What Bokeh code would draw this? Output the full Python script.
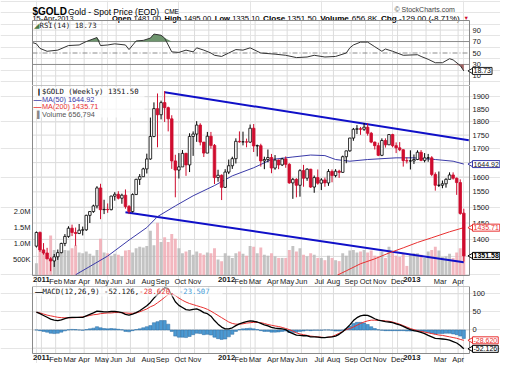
import math
import numpy as np
from bokeh.plotting import figure
from bokeh.layouts import column
from bokeh.models import Range1d, Label, LinearScale
from bokeh.core.properties import value
from bokeh.embed import file_html
from bokeh.resources import INLINE

# ---------------- data (weekly, index 0 = week ending 31-Dec-2010) ----------------
opens = [1380, 1421, 1369, 1360, 1343, 1337, 1349, 1361, 1388, 1409,
         1434, 1421, 1418, 1428, 1429, 1474, 1486, 1504, 1563, 1492,
         1493, 1492, 1536, 1542, 1529, 1539, 1502, 1486, 1541, 1592,
         1601, 1628, 1663, 1745, 1852, 1828, 1876, 1856, 1812, 1656,
         1624, 1635, 1683, 1642, 1745, 1754, 1788, 1724, 1684, 1746,
         1712, 1598, 1606, 1565, 1617, 1639, 1664, 1727, 1725, 1725,
         1724, 1776, 1710, 1711, 1656, 1661, 1668, 1631, 1659, 1642,
         1663, 1644, 1580, 1592, 1572, 1622, 1596, 1627, 1566, 1598,
         1579, 1590, 1580, 1619, 1605, 1620, 1616, 1671, 1692, 1739,
         1772, 1774, 1772, 1780, 1757, 1724, 1711, 1676, 1730, 1714,
         1752, 1711, 1703, 1696, 1657, 1656, 1656, 1661, 1687, 1658,
         1667, 1667, 1609, 1572, 1572, 1577, 1592, 1607, 1596, 1581,
         1481]
highs = [1424, 1424, 1389, 1375, 1348, 1357, 1370, 1390, 1416, 1440,
         1445, 1436, 1447, 1439, 1476, 1487, 1508, 1569, 1577, 1524,
         1512, 1537, 1549, 1552, 1544, 1558, 1507, 1545, 1594, 1610,
         1632, 1682, 1817, 1877, 1913, 1884, 1923, 1860, 1826, 1678,
         1684, 1695, 1685, 1757, 1764, 1803, 1795, 1724, 1762, 1762,
         1717, 1625, 1609, 1627, 1661, 1671, 1738, 1764, 1763, 1737,
         1790, 1792, 1715, 1718, 1671, 1697, 1681, 1677, 1661, 1667,
         1672, 1648, 1597, 1596, 1627, 1642, 1630, 1628, 1605, 1626,
         1596, 1598, 1627, 1626, 1627, 1625, 1675, 1693, 1740, 1777,
         1788, 1781, 1796, 1795, 1762, 1726, 1722, 1738, 1738, 1754,
         1755, 1723, 1724, 1698, 1669, 1694, 1679, 1694, 1695, 1684,
         1681, 1673, 1616, 1619, 1588, 1596, 1616, 1616, 1598, 1592,
         1495]
lows = [1376, 1363, 1355, 1342, 1308, 1320, 1340, 1359, 1380, 1405,
        1410, 1381, 1416, 1412, 1426, 1450, 1482, 1496, 1462, 1478,
        1482, 1490, 1521, 1525, 1511, 1495, 1478, 1483, 1540, 1573,
        1600, 1612, 1660, 1742, 1705, 1810, 1800, 1764, 1628, 1532,
        1595, 1635, 1604, 1617, 1674, 1725, 1712, 1670, 1684, 1700,
        1576, 1584, 1523, 1563, 1610, 1628, 1647, 1722, 1712, 1705,
        1722, 1688, 1672, 1636, 1627, 1651, 1613, 1625, 1627, 1638,
        1632, 1577, 1527, 1532, 1534, 1567, 1587, 1563, 1547, 1574,
        1556, 1567, 1570, 1582, 1599, 1597, 1615, 1648, 1689, 1729,
        1754, 1751, 1766, 1748, 1720, 1697, 1673, 1673, 1704, 1714,
        1705, 1684, 1691, 1636, 1647, 1626, 1645, 1659, 1655, 1651,
        1653, 1603, 1554, 1566, 1562, 1564, 1592, 1591, 1540, 1476,
        1335.1]
closes = [1421, 1369, 1360, 1343, 1337, 1349, 1361, 1388, 1409, 1434,
          1421, 1418, 1428, 1429, 1474, 1486, 1504, 1563, 1492, 1493,
          1492, 1536, 1542, 1529, 1539, 1502, 1486, 1541, 1592, 1601,
          1628, 1663, 1745, 1852, 1828, 1876, 1856, 1812, 1656, 1624,
          1635, 1683, 1642, 1745, 1754, 1788, 1724, 1684, 1746, 1712,
          1598, 1606, 1565, 1617, 1639, 1664, 1727, 1725, 1725, 1724,
          1776, 1710, 1711, 1656, 1661, 1668, 1631, 1659, 1642, 1663,
          1644, 1580, 1592, 1572, 1622, 1596, 1627, 1566, 1598, 1579,
          1590, 1580, 1619, 1605, 1620, 1616, 1671, 1692, 1739, 1772,
          1774, 1772, 1780, 1757, 1724, 1711, 1676, 1730, 1714, 1752,
          1711, 1703, 1696, 1657, 1656, 1656, 1661, 1687, 1658, 1667,
          1667, 1609, 1572, 1572, 1577, 1592, 1607, 1596, 1581, 1480,
          1351.5]
volume_m = [0.38, 1.15, 0.80, 0.70, 1.25, 0.80, 0.65, 0.75, 0.80, 0.78,
            0.85, 0.95, 0.72, 0.70, 0.75, 0.68, 0.62, 0.80, 1.15, 0.72,
            0.70, 0.62, 0.68, 0.65, 0.60, 0.78, 0.80, 0.72, 0.85, 0.90,
            0.88, 0.92, 1.40, 0.95, 1.65, 1.05, 1.20, 1.05, 1.30, 1.15,
            0.85, 0.70, 0.75, 0.80, 0.65, 0.75, 0.70, 0.65, 0.72, 0.70,
            0.85, 0.50, 0.45, 0.70, 0.62, 0.55, 0.70, 0.75, 0.68, 0.62,
            0.92, 0.90, 0.70, 0.88, 0.65, 0.62, 0.70, 0.60, 0.55, 0.55,
            0.55, 0.80, 0.92, 0.75, 0.85, 0.65, 0.60, 0.70, 0.65, 0.55,
            0.55, 0.48, 0.62, 0.55, 0.48, 0.45, 0.70, 0.62, 0.78, 0.80,
            0.72, 0.75, 0.80, 0.72, 0.78, 0.62, 0.60, 0.75, 0.55, 0.90,
            0.72, 0.62, 0.58, 0.70, 0.30, 0.65, 0.70, 0.70, 0.65, 0.55,
            0.75, 0.80, 0.90, 0.78, 0.58, 0.60, 0.68, 0.55, 0.72, 0.85,
            0.657]

ma50_week = [11, 20, 26, 31, 34, 39, 44, 50, 55, 61, 66, 72, 77, 81, 84, 88, 93, 101, 106, 112, 117, 120]
ma50_val = [1298, 1351, 1398, 1436, 1470, 1504, 1537, 1571, 1604, 1632, 1661, 1670, 1677, 1675,
            1661, 1655, 1661, 1667, 1667, 1661, 1655, 1644.92]
ma200_week = [84.5, 87, 91, 95, 99, 103, 107, 111, 116, 120]
ma200_val = [1297, 1309, 1329, 1343, 1360, 1375, 1391, 1405, 1423, 1435.71]

upper_trend_week = [36, 121.4]
upper_trend_price = [1918, 1731]
lower_trend_week = [25, 120]
lower_trend_price = [1484, 1333]

rsi_week = [-1, 0, 1, 3, 6, 9, 12, 14, 17, 18, 20, 22, 25, 26, 28, 30, 32, 33, 35, 36, 38, 40, 42, 44, 45,
            47, 49, 50, 52, 54, 56, 58, 60, 63, 67, 70, 73, 76, 78, 81, 84, 87, 88, 89, 91, 93, 95,
            97, 98, 100, 103, 107, 108, 110, 112, 114, 116, 117, 119, 120]
rsi_val = [68, 66, 58, 53, 55, 63, 64, 70, 77, 63, 64, 66, 64, 56, 71, 72, 76, 83, 81, 76, 52, 51, 55, 52, 59,
           55, 50, 46, 44, 50, 56, 55, 59, 50, 48, 46, 42, 43, 46, 43, 44, 50, 59, 64, 69, 69, 61,
           53, 57, 53, 46, 47, 44, 39, 33, 33, 40, 38, 28, 18.73]

macd_val = [49, 45, 40, 35, 30, 27, 26, 28, 31, 34,
            35, 35, 35, 35, 39, 43, 47, 52, 51, 50,
            50, 51, 51, 50, 48, 43, 41, 44, 48, 53,
            60, 67, 76, 88, 98, 108, 116, 114, 96, 78,
            68, 62, 56, 55, 57, 58, 54, 48, 45, 38,
            26, 16, 8, 3, 3, 6, 12, 17, 20, 23,
            25, 24, 22, 18, 14, 11, 7, 5, 4, 3,
            1, -6, -10, -14, -15, -16, -16, -19, -19, -20,
            -21, -21, -20, -19, -17, -12, -5, 4, 14, 26,
            34, 39, 41, 40, 36, 31, 27, 25, 23, 22,
            20, 17, 14, 10, 5, 1, -2, -4, -7, -10,
            -15, -19, -23, -24, -25, -26, -28, -32, -36, -43,
            -52.126]
signal_val = [49, 47, 44, 41, 39, 37, 35, 34, 33.5, 33.5,
              33.5, 34, 35, 36, 38, 40, 42, 43, 45, 46,
              47, 47, 48, 48, 47.5, 47, 46, 46, 47, 50,
              54, 58, 64, 68, 75, 82, 90, 98, 100, 95,
              88, 82, 77, 73, 70, 67, 64, 61, 57, 52,
              46, 40, 34, 28, 22, 18, 16, 16, 17, 19,
              20, 21, 21, 20, 18, 15, 13, 11, 9.5, 7,
              4, 1, -3, -8, -11, -13, -15, -17, -18, -19,
              -20, -21, -20, -18, -14, -9, -4, 1, 4, 8,
              13, 18, 22, 25, 27, 27, 26.5, 26, 25, 24,
              22, 19, 16, 12, 8, 4, 1, -2, -4, -6,
              -8, -10, -12, -14, -15, -17, -19, -21, -23, -26,
              -28.62]

month_week = [1, 5, 9, 13, 18, 22, 26, 31, 35, 40, 44, 48, 53, 57, 61, 66, 70, 74, 79, 83, 88,
              92, 96, 101, 105, 109, 113, 118]
month_label = ["2011", "Feb", "Mar", "Apr", "May", "Jun", "Jul", "Aug", "Sep", "Oct", "Nov", "",
               "2012", "Feb", "Mar", "Apr", "May", "Jun", "Jul", "Aug", "Sep", "Oct", "Nov", "Dec",
               "2013", "", "Mar", "Apr"]
year_labels = ["2011", "2012", "2013"]

price_ticks = [1350, 1400, 1450, 1500, 1550, 1600, 1650, 1700, 1750, 1800, 1850, 1900]
price_tick_labels = ["", "1400", "1450", "1500", "1550", "1600", "", "1700", "1750", "1800", "1850", "1900"]
vol_ticks = [500000, 1000000, 1500000, 2000000]
vol_tick_labels = ["500K", "1.0M", "1.5M", "2.0M"]
rsi_ticks = [10, 30, 50, 70, 90]
rsi_grid = [10, 90]
macd_ticks = [0, 50, 100]
macd_grid = [-50, 0, 50, 100]

quote_tokens = [("Open", True), ("1481.00", False), ("High", True), ("1495.00", False),
                ("Low", True), ("1335.10", False), ("Close", True), ("1351.50", False),
                ("Volume", True), ("656.8K", False), ("Chg", True), ("-129.00 (-8.71%)", False)]

# ---------------- layout constants (pixels) ----------------
SANS = "Liberation Sans"
MONO = "DejaVu Sans Mono"
W = 500
LB, RB = 32, 31
FRAME_W = W - LB - RB
X0, X1 = -1.1, 121.6
XPPU = FRAME_W / (X1 - X0)
XL = X0 - LB / XPPU
XR = X1 + RB / XPPU
H_HEAD, H_RSI, H_MAIN, H_AX, H_MACD, H_AX2 = 20, 65, 190, 11, 67, 10
RSI_BOT, RSI_TOP = -6.7, 106.7
P_BOT, P_TOP = 1296.0, 1946.0
V_TOP = 5.95e6
M_BOT, M_TOP = -65.0, 120.0

PPU_R = H_RSI / (RSI_TOP - RSI_BOT)
PPU_L = H_MAIN / math.log(P_TOP / P_BOT)
PPU_V = H_MAIN / V_TOP
PPU_M = H_MACD / (M_TOP - M_BOT)

GRID = "#dcdcdc"
OUTLINE = "#8a8a8a"
RED = "#cf0c2e"
BLUE_MA = "#3a3aa8"
RED_MA = "#e83030"
TREND = "#1010c8"
TXT = "#1a1a1a"

REG_W = {c: 0.556 for c in "0123456789"}
REG_W.update({".": 0.278, "-": 0.333, "(": 0.333, ")": 0.333, "%": 0.889, "K": 0.667, " ": 0.278})
BOLD_W = {"O": 0.778, "p": 0.611, "e": 0.556, "n": 0.611, "H": 0.722, "i": 0.278, "g": 0.611,
          "h": 0.611, "L": 0.611, "o": 0.611, "w": 0.778, "C": 0.722, "l": 0.278, "s": 0.556,
          "V": 0.667, "u": 0.611, "m": 0.889}


def text_w(s, bold, size):
    table = BOLD_W if bold else REG_W
    return sum(table.get(ch, 0.556) for ch in s) * size


xr = Range1d(XL, XR)
tick_pos = [m + 0.4 for m in month_week]


def xpx(px):
    return XL + px / XPPU


def top_y(px):
    return RSI_TOP + H_HEAD / PPU_R - px / PPU_R


def main_y(px):
    return math.exp(math.log(P_TOP) - px / PPU_L)


def macd_y(px):
    return M_TOP - px / PPU_M


def txt(p, xs, ys, texts, size="7.5px", font=SANS, color=TXT, bold=False, align="left",
        baseline="middle", **kw):
    p.text(x=xs, y=ys, text=texts, text_font=value(font), text_font_size=size,
           text_color=color, text_font_style="bold" if bold else "normal",
           text_align=align, text_baseline=baseline, **kw)


def boxed(p, y, text, color, border, bold=False, **kw):
    p.scatter(x=[xpx(LB + FRAME_W + 2.5)], y=[y], marker="triangle", angle=math.pi / 2,
              size=7, fill_color="white", line_color=border, line_width=1, **kw)
    lab = Label(x=xpx(LB + FRAME_W + 3), y=y, text=text, text_font=SANS,
                text_font_size="7px", text_color=color,
                text_font_style="bold" if bold else "normal", text_align="left",
                text_baseline="middle", background_fill_color="white",
                border_line_color=border, border_line_width=1, padding=1, **kw)
    p.add_layout(lab)


def panel(p, ybot, ytop, hgrid, **kw):
    p.segment(x0=tick_pos, y0=[ybot] * len(tick_pos), x1=tick_pos, y1=[ytop] * len(tick_pos),
              line_color=GRID, line_width=1, **kw)
    p.segment(x0=[X0] * len(hgrid), y0=hgrid, x1=[X1] * len(hgrid), y1=hgrid,
              line_color=GRID, line_width=1, **kw)


def outline(p, ybot, ytop, **kw):
    p.quad(left=[X0], right=[X1], bottom=[ybot], top=[ytop], fill_color=None,
           line_color=OUTLINE, line_width=1, **kw)


def month_labels(p, y):
    norm = [(t, l) for t, l in zip(tick_pos, month_label) if l and l not in year_labels]
    yrs = [(t, l) for t, l in zip(tick_pos, month_label) if l in year_labels]
    txt(p, [t for t, _ in norm], [y] * len(norm), [l for _, l in norm], size="7.5px",
        align="center", baseline="top")
    txt(p, [t for t, _ in yrs], [y] * len(yrs), [l for _, l in yrs], size="7.8px", bold=True,
        align="center", baseline="top")


def base_fig(h, y_range, log=False):
    return figure(width=W, height=h, x_range=xr, y_range=y_range,
                  y_axis_type="log" if log else "linear", x_axis_location=None,
                  y_axis_location=None, output_backend="svg", toolbar_location=None,
                  min_border=0, outline_line_color=None)


# ---------------- top figure: header + RSI ----------------
top = base_fig(H_HEAD + H_RSI, Range1d(RSI_BOT, top_y(0)))
row1 = top_y(11.4)
row2 = top_y(17.9)
txt(top, [xpx(32)], [row1], ["$GOLD"], size="10px", bold=True, color="#000", baseline="alphabetic")
txt(top, [xpx(67.5)], [row1], ["Gold - Spot Price (EOD)"], size="8.5px", color="#000",
    baseline="alphabetic")
txt(top, [xpx(164)], [row1], ["CME"], size="6.5px", color="#000", baseline="alphabetic")
txt(top, [xpx(394)], [top_y(8.6)], ["\u00a9 StockCharts.com"], size="7px", color="#444",
    baseline="alphabetic")
txt(top, [xpx(32)], [row2], ["15-Apr-2013"], size="7.4px", color="#000", baseline="alphabetic")

cur = 111.4
for i, (s, bold) in enumerate(quote_tokens):
    size = 7.6 if i < 6 else 8.1
    if i == 6:
        cur = 262.6
    txt(top, [xpx(cur)], [row2], [s], size="%.1fpx" % size, bold=bold, color="#000",
        baseline="alphabetic")
    cur += text_w(s, bold, size) + (2.2 if bold else 3.6)
txt(top, [xpx(463)], [top_y(17.5)], ["\u25bc"], size="5.5px", color=RED, baseline="alphabetic")

panel(top, RSI_BOT, RSI_TOP, rsi_grid)
for lvl in (70, 30):
    top.segment(x0=[X0], y0=[lvl], x1=[X1], y1=[lvl], line_color="#8c8c8c", line_width=1)
top.segment(x0=[X0], y0=[50], x1=[X1], y1=[50], line_color="#8c8c8c", line_width=1,
            line_dash="5 2 1 2")
rv = np.array(rsi_val, dtype=float)
top.varea(x=rsi_week, y1=np.full(len(rv), 70.0), y2=np.maximum(rv, 70.0),
          fill_color="#5e8a5e", fill_alpha=0.9)
top.varea(x=rsi_week, y1=np.minimum(rv, 30.0), y2=np.full(len(rv), 30.0),
          fill_color="#9c5454", fill_alpha=0.9)
top.line(x=rsi_week, y=rsi_val, line_color="#333333", line_width=1)
outline(top, RSI_BOT, RSI_TOP)
txt(top, [xpx(LB + 1.5)], [top_y(H_HEAD + 4.5)], ["\u25e2"], size="7px", color="#4a7a4a")
txt(top, [xpx(LB + 7)], [top_y(H_HEAD + 4.5)], ["RSI(14) 18.73"], size="7.3px", font=MONO,
    color="#222")
txt(top, [xpx(LB + FRAME_W + 3)] * len(rsi_ticks), rsi_ticks, [str(t) for t in rsi_ticks])
boxed(top, rsi_val[-1], "18.73", "#000", "#222")

# ---------------- main price panel ----------------
main = base_fig(H_MAIN + H_AX, Range1d(main_y(H_MAIN + H_AX), P_TOP), log=True)
main.extra_y_ranges = {"vol": Range1d(-H_AX / PPU_V, V_TOP)}
main.extra_y_scales = {"vol": LinearScale()}

panel(main, P_BOT, P_TOP, price_ticks)

n = len(closes)
weeks = list(range(n))
prev = [opens[0]] + closes[:-1]
edge = ["#000000" if c >= pc else RED for c, pc in zip(closes, prev)]
fill = ["#ffffff" if c >= o else e for c, o, e in zip(closes, opens, edge)]
vol_col = ["#b9b9b9" if c >= pc else "#f0aab4" for c, pc in zip(closes, prev)]
main.vbar(x=weeks, top=[v * 1e6 for v in volume_m], bottom=0, width=0.82, y_range_name="vol",
          fill_color=vol_col, line_color=None, fill_alpha=0.85)
main.line(x=lower_trend_week, y=lower_trend_price, line_color=TREND, line_width=2)
main.line(x=upper_trend_week, y=upper_trend_price, line_color=TREND, line_width=2)
main.line(x=ma50_week, y=ma50_val, line_color=BLUE_MA, line_width=1)
main.line(x=ma200_week, y=ma200_val, line_color=RED_MA, line_width=1)
main.segment(x0=weeks, y0=lows, x1=weeks, y1=highs, line_color=edge, line_width=1)
main.vbar(x=weeks, top=[max(o, c) for o, c in zip(opens, closes)],
          bottom=[min(o, c) for o, c in zip(opens, closes)], width=0.72,
          fill_color=fill, line_color=edge, line_width=0.8)
outline(main, P_BOT, P_TOP)

lx = xpx(LB + 9.5)
main.quad(left=[xpx(LB + 1)], right=[xpx(LB + 112)], bottom=[main_y(32)], top=[main_y(1.5)],
          fill_color="white", fill_alpha=0.7, line_color=None)
txt(main, [xpx(LB + 3)], [main_y(6)], ["\u2759"], size="7px", color="#000")
txt(main, [lx], [main_y(6)], ["$GOLD (Weekly) 1351.50"], size="7.3px", font=MONO, color="#111")
txt(main, [xpx(LB + 1)], [main_y(14.3)], ["\u2014"], size="8px", color=BLUE_MA, bold=True)
txt(main, [lx], [main_y(14.3)], ["MA(50) 1644.92"], size="7.3px", color=BLUE_MA)
txt(main, [xpx(LB + 1)], [main_y(21.3)], ["\u2014"], size="8px", color=RED_MA, bold=True)
txt(main, [lx], [main_y(21.3)], ["MA(200) 1435.71"], size="7.3px", color=RED_MA)
txt(main, [xpx(LB + 2)], [main_y(28.5)], ["\u2590"], size="7px", color="#888")
txt(main, [lx], [main_y(28.5)], ["Volume 656,794"], size="7.3px", color="#555")

vis = [(t, s) for t, s in zip(price_ticks, price_tick_labels) if s]
txt(main, [xpx(LB + FRAME_W + 3)] * len(vis), [t for t, _ in vis], [s for _, s in vis])
txt(main, [xpx(LB - 2)] * len(vol_ticks), vol_ticks, vol_tick_labels, align="right",
    y_range_name="vol")
boxed(main, ma50_val[-1], "1644.92", "#222", BLUE_MA)
boxed(main, ma200_val[-1], "1435.71", RED_MA, RED_MA)
boxed(main, closes[-1], "1351.58", "#000", "#000", bold=True)
month_labels(main, main_y(H_MAIN + 1.0))

# ---------------- MACD panel ----------------
macd = base_fig(H_MACD + H_AX2, Range1d(macd_y(H_MACD + H_AX2), M_TOP))
panel(macd, M_BOT, M_TOP, macd_grid)
hist = [m - s for m, s in zip(macd_val, signal_val)]
macd.vbar(x=weeks, top=hist, bottom=0, width=0.9, fill_color="#4c9ad3",
          line_color="#2a6aa0", line_width=0.5)
macd.line(x=weeks, y=signal_val, line_color=RED_MA, line_width=1)
macd.line(x=weeks, y=macd_val, line_color="#000000", line_width=1.3)
outline(macd, M_BOT, M_TOP)

my = macd_y(5.3)
macd.quad(left=[xpx(LB + 1)], right=[xpx(LB + 190)], bottom=[macd_y(10)], top=[macd_y(1)],
          fill_color="white", fill_alpha=0.6, line_color=None)
txt(macd, [xpx(LB + 2.5)], [my], ["\u2014"], size="8px", color="#000", bold=True)
txt(macd, [xpx(LB + 10)], [my], ["MACD(12,26,9) -52.126,"], size="7.3px", font=MONO,
    color="#111")
txt(macd, [xpx(LB + 10 + 22 * 4.4)], [my], [" -28.620,"], size="7.3px", font=MONO, color=RED_MA)
txt(macd, [xpx(LB + 10 + 31 * 4.4)], [my], [" -23.507"], size="7.3px", font=MONO,
    color="#4aa0d8")
txt(macd, [xpx(LB + FRAME_W + 3)] * len(macd_ticks), macd_ticks, [str(t) for t in macd_ticks])
boxed(macd, signal_val[-1], "-28.620", RED_MA, RED_MA)
boxed(macd, macd_val[-1], "-52.126", "#000", "#000")
month_labels(macd, macd_y(H_MACD + 1.0))

layout = column(top, main, macd, spacing=0)
open("out.html", "w").write(file_html(layout, INLINE))
